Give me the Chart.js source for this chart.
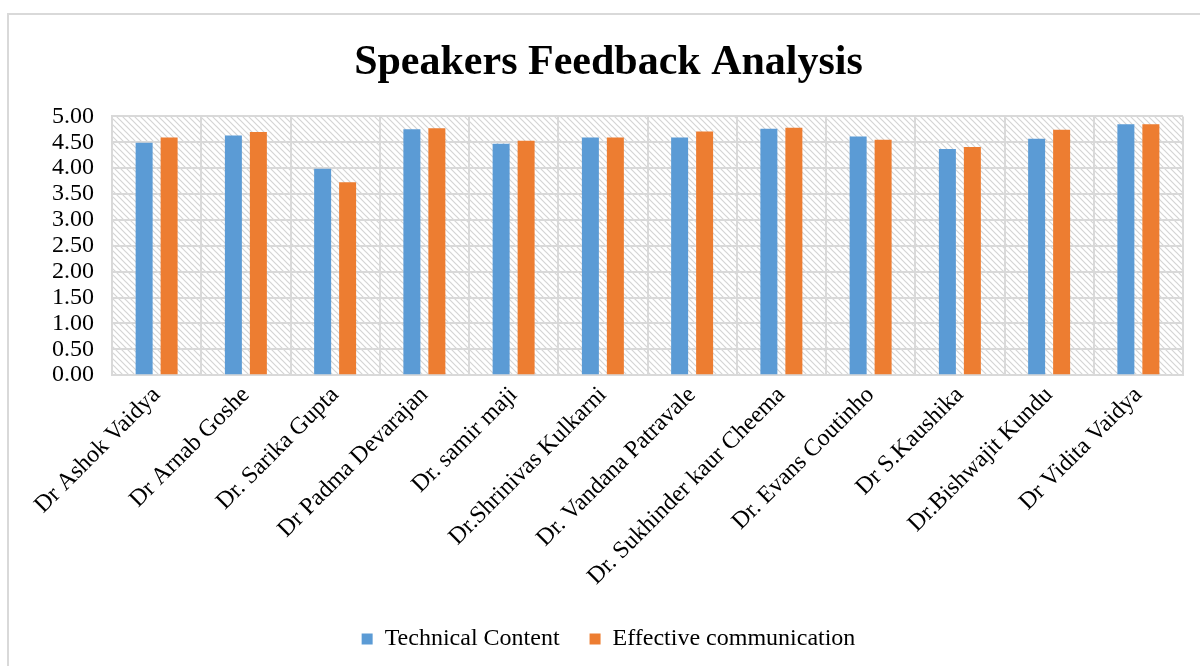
<!DOCTYPE html>
<html>
<head>
<meta charset="utf-8">
<script src="https://cdn.jsdelivr.net/npm/chart.js@4"></script>
<style>
html,body{margin:0;padding:0;background:#fff;}
#wrap{width:1200px;height:666px;position:relative;}
</style>
</head>
<body>
<div id="wrap"><canvas id="c" width="1200" height="666"></canvas></div>
<script>
const speakers=['Dr Ashok Vaidya','Dr Arnab Goshe','Dr. Sarika Gupta','Dr Padma Devarajan','Dr. samir maji','Dr.Shrinivas Kulkarni','Dr. Vandana Patravale','Dr. Sukhinder kaur Cheema','Dr. Evans Coutinho','Dr S.Kaushika','Dr.Bishwajit Kundu','Dr Vidita Vaidya'];
const technical=[4.49,4.63,3.99,4.75,4.47,4.59,4.59,4.76,4.61,4.37,4.57,4.85];
const communication=[4.59,4.70,3.73,4.77,4.53,4.59,4.71,4.78,4.55,4.41,4.74,4.85];

const serif="'Times New Roman','Liberation Serif',serif";

// diagonal hatch for the plot area
function hatch(ctx){
  const p=document.createElement('canvas');
  p.width=6;p.height=6;
  const g=p.getContext('2d');
  g.fillStyle='#fff';g.fillRect(0,0,6,6);
  g.strokeStyle='#d4d4d4';g.lineWidth=1.2;
  g.beginPath();
  g.moveTo(0,0);g.lineTo(6,6);
  g.moveTo(-3,3);g.lineTo(3,9);
  g.moveTo(3,-3);g.lineTo(9,3);
  g.stroke();
  return ctx.createPattern(p,'repeat');
}

const bgPlugin={
  id:'bg',
  beforeDraw(chart){
    const {ctx,chartArea:a}=chart;
    ctx.save();
    ctx.fillStyle=hatch(ctx);
    ctx.fillRect(a.left,a.top,a.right-a.left,a.bottom-a.top);
    // outer frame (left + top)
    ctx.strokeStyle='#d9d9d9';ctx.lineWidth=2;
    ctx.beginPath();
    ctx.moveTo(8,666);ctx.lineTo(8,14);ctx.lineTo(1200,14);
    ctx.stroke();
    ctx.restore();
  }
};

Chart.defaults.font.family=serif;
Chart.defaults.color='#000';

new Chart(document.getElementById('c'),{
  type:'bar',
  data:{
    labels:speakers,
    datasets:[
      {label:'Technical Content',data:technical,backgroundColor:'#5b9bd5'},
      {label:'Effective communication',data:communication,backgroundColor:'#ed7d31'}
    ]
  },
  options:{
    responsive:false,
    animation:false,
    devicePixelRatio:1,
    categoryPercentage:0.56,
    barPercentage:0.68,
    layout:{padding:{left:34,right:17,top:10,bottom:5}},
    plugins:{
      title:{display:true,text:'Speakers Feedback Analysis',font:{size:42,weight:'bold',family:serif},color:'#000',padding:{top:28,bottom:28}},
      legend:{position:'bottom',labels:{boxWidth:11,boxHeight:11,font:{size:24,family:serif},color:'#000',padding:30}},
      tooltip:{enabled:false}
    },
    scales:{
      x:{
        grid:{color:'#d9d9d9',lineWidth:2,drawTicks:false},
        border:{color:'#d9d9d9',width:2},
        ticks:{minRotation:45,maxRotation:45,font:{size:24,family:serif},color:'#000',padding:6}
      },
      y:{
        min:0,max:5,
        grid:{color:'#d9d9d9',lineWidth:2,drawTicks:false},
        border:{color:'#d9d9d9',width:2},
        ticks:{stepSize:0.5,autoSkip:false,font:{size:24,family:serif,lineHeight:1},color:'#000',padding:18,callback:v=>v.toFixed(2)}
      }
    }
  },
  plugins:[bgPlugin]
});
</script>
</body>
</html>
